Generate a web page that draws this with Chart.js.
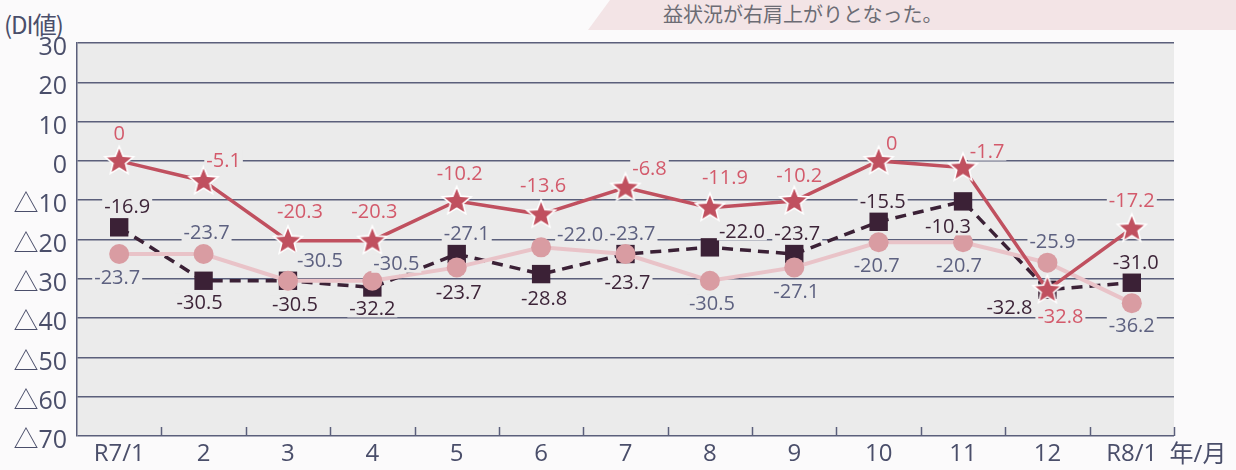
<!DOCTYPE html>
<html><head><meta charset="utf-8">
<script src="https://cdn.jsdelivr.net/npm/chart.js@4.4.1/dist/chart.umd.min.js"></script>
<style>
html,body{margin:0;padding:0;background:#fbfafb;}
#wrap{position:relative;width:1236px;height:470px;overflow:hidden;}
#banner{position:absolute;left:588px;top:0;width:660px;height:30px;background:#f3e4e6;clip-path:polygon(22px 0,100% 0,100% 100%,0 100%);}
#btext{position:absolute;left:663px;top:3px;font-family:"Noto Sans CJK JP";font-size:20px;color:#6c6c74;line-height:22px;white-space:nowrap;}
#unit{position:absolute;left:4px;top:6px;font-family:"Noto Sans CJK JP";font-size:24px;color:#4a4e6a;letter-spacing:-1px;}
canvas{position:absolute;left:0;top:0;}
</style></head>
<body><div id="wrap">
<div id="banner"></div>
<div id="btext">益状況が右肩上がりとなった。</div>
<div id="unit">(DI値)</div>
<canvas id="c" width="1236" height="470"></canvas>
</div>
<script>
const categories = ['R7/1','2','3','4','5','6','7','8','9','10','11','12','R8/1'];
const starSeries   = [0, -5.1, -20.3, -20.3, -10.2, -13.6, -6.8, -11.9, -10.2, 0, -1.7, -32.8, -17.2];
const circleSeries = [-23.7, -23.7, -30.5, -30.5, -27.1, -22.0, -23.7, -30.5, -27.1, -20.7, -20.7, -25.9, -36.2];
const squareSeries = [-16.9, -30.5, -30.5, -32.2, -23.7, -28.8, -23.7, -22.0, -23.7, -15.5, -10.3, -32.8, -31.0];
const yTicks = [30, 20, 10, 0, -10, -20, -30, -40, -50, -60, -70];
const xUnit = '年/月';

// label placement offsets (style, px)
const starLabelOffsets = [[0,-28],[20,-21],[12,-29],[2,-29],[3,-28],[2,-29],[24,-19],[15,-30],[5,-26],[13,-18],[24,-16],[13,26],[0,-28]];
const circleLabelOffsets = [[-2,23],[3,-22],[32,-20],[24,-17],[10,-34],[39,-13],[7,-21],[2,23],[2,24],[-2,23],[-4,23],[5,-21],[0,22]];
const squareLabelOffsets = [[8,-21],[-4,22],[7,24],[0,21],[2,38],[3,24],[2,28],[32,-16],[3,-21],[4,-21],[-15,25],[-38,17],[4,-20]];

const AXIS = '#5b5f7b';
const FONT = '"Open Sans", "Noto Sans CJK JP", sans-serif';

function makeStar(){
  const c = document.createElement('canvas');
  c.width = 34; c.height = 34;
  const g = c.getContext('2d');
  const cx = 17, cy = 17.5, R = 15, r = 6.6;
  g.beginPath();
  for (let i = 0; i < 10; i++) {
    const rad = i % 2 === 0 ? R : r;
    const a = -Math.PI/2 + i*Math.PI/5;
    const x = cx + rad*Math.cos(a), y = cy + rad*Math.sin(a);
    if (i === 0) g.moveTo(x,y); else g.lineTo(x,y);
  }
  g.closePath();
  g.fillStyle = '#c0505f';
  g.fill();
  g.lineWidth = 1.6;
  g.strokeStyle = '#ffffff';
  g.stroke();
  return c;
}
const starImg = makeStar();

const plotBg = {
  id:'plotBg',
  beforeDraw(chart){
    const {ctx, chartArea:a} = chart;
    ctx.save();
    ctx.fillStyle = '#ebebeb';
    ctx.fillRect(a.left, a.top, a.right-a.left, a.bottom-a.top);
    ctx.restore();
  },
  afterDraw(chart){
    const {ctx, chartArea:a} = chart;
    const xs = chart.scales.x;
    ctx.save();
    ctx.strokeStyle = AXIS;
    ctx.lineWidth = 1.5;
    const n = categories.length;
    for (let i = 1; i <= n; i++) {
      let x;
      if (i < n) x = (xs.getPixelForValue(i-1) + xs.getPixelForValue(i))/2;
      else x = a.right;
      x = Math.round(x)+0.5;
      ctx.beginPath(); ctx.moveTo(x, a.bottom); ctx.lineTo(x, a.bottom-9); ctx.stroke();
    }
    ctx.fillStyle = '#4a4e6a';
    ctx.font = '24px ' + FONT;
    ctx.textAlign = 'center';
    ctx.textBaseline = 'middle';
    ctx.fillText(xUnit, 1198, 455);
    ctx.restore();
  }
};

const labelsPlugin = {
  id:'pointLabels',
  afterDatasetsDraw(chart){
    const {ctx} = chart;
    const cfgs = [
      {ds:0, offs:starLabelOffsets, color:'#d35a6b'},
      {ds:1, offs:circleLabelOffsets, color:'#5d6180'},
      {ds:2, offs:squareLabelOffsets, color:'#3d2438'}
    ];
    ctx.save();
    ctx.font = '20px ' + FONT;
    ctx.textAlign = 'center';
    ctx.textBaseline = 'middle';
    cfgs.forEach(c => {
      const meta = chart.getDatasetMeta(c.ds);
      const data = chart.data.datasets[c.ds].data;
      meta.data.forEach((pt, i) => {
        const v = data[i];
        const txt = v === 0 ? '0' : v.toFixed(1);
        const x = pt.x + c.offs[i][0], y = pt.y + c.offs[i][1];
        const w = ctx.measureText(txt).width;
        ctx.fillStyle = '#ebebeb';
        ctx.fillRect(x - w/2 - 2, y - 9, w + 4, 18);
        ctx.fillStyle = c.color;
        ctx.fillText(txt, x, y + 1);
      });
    });
    ctx.restore();
  }
};

new Chart(document.getElementById('c'), {
  type:'line',
  data:{
    labels: categories,
    datasets:[
      {label:'star', data: starSeries, borderColor:'#c0505f', borderWidth:3.5, pointStyle: starImg, pointRadius:14, tension:0},
      {label:'circle', data: circleSeries, borderColor:'#e9c3c8', borderWidth:4, pointStyle:'circle', pointRadius:10, pointBackgroundColor:'#d99ca2', pointBorderWidth:0, tension:0},
      {label:'square', data: squareSeries, borderColor:'#3b2136', borderWidth:3.5, borderDash:[11,7], pointStyle:'rect', pointRadius:13, pointBackgroundColor:'#3b2136', pointBorderWidth:0, tension:0}
    ]
  },
  options:{
    responsive:false,
    animation:false,
    events:[],
    layout:{padding:{top:43, right:62, left:0, bottom:0}},
    plugins:{legend:{display:false}, tooltip:{enabled:false}},
    scales:{
      x:{
        offset:true,
        grid:{display:false, drawTicks:false},
        border:{display:false},
        ticks:{color:'#4a4e6a', font:{family:FONT, size:24}, padding:4, maxRotation:0, autoSkip:false},
        afterFit(s){ s.height = 34; }
      },
      y:{
        min:-70, max:30,
        afterBuildTicks(s){ s.ticks = yTicks.map(v => ({value:v})); },
        grid:{color:AXIS, lineWidth:1.5, drawTicks:false},
        border:{display:true, color:AXIS, width:1.5},
        ticks:{color:'#4a4e6a', font:{family:FONT, size:25}, padding:10, labelOffset:5,
          callback:(v)=> v < 0 ? '△' + (-v) : String(v)},
        afterFit(s){ s.width = 77; }
      }
    }
  },
  plugins:[plotBg, labelsPlugin]
});
</script>
</body></html>
